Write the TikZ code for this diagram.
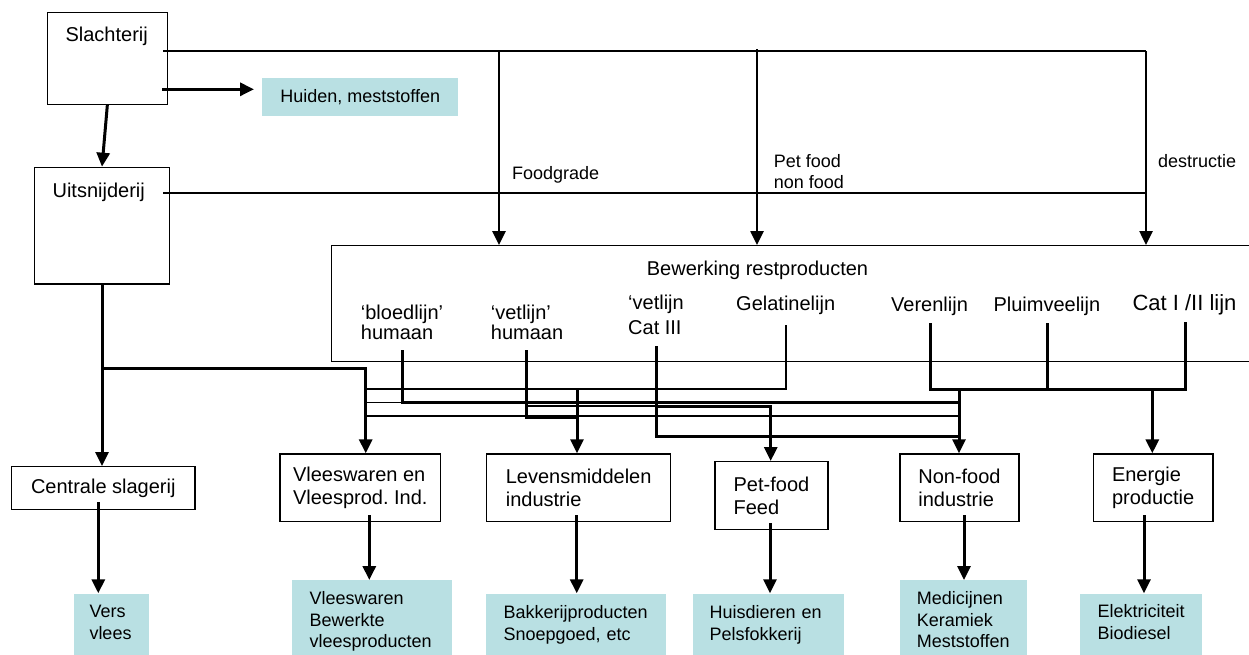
\documentclass[tikz,border=0pt]{standalone}
\usepackage{fontspec}
\setmainfont{Liberation Sans}
\usetikzlibrary{arrows.meta}
\definecolor{tealbox}{RGB}{185,224,227}
\newcommand{\mylines}[1]{\begin{tabular}[t]{@{}l@{}}#1\end{tabular}}
\newcommand{\padlines}[2]{\hspace*{#1}\mylines{#2}}
\frenchspacing
\begin{document}
\begin{tikzpicture}[x=1pt,y=-1pt,
  box/.style={draw, line width=1.3pt, inner sep=0pt, align=left, anchor=north west, font=\fontsize{20}{23.5}\selectfont},
  obox/.style={fill=tealbox, inner sep=0pt, align=left, anchor=north west, font=\fontsize{18}{21.5}\selectfont},
  lab/.style={inner sep=0pt, anchor=base west, font=\fontsize{20}{19}\selectfont},
  slab/.style={inner sep=0pt, anchor=base west, font=\fontsize{18}{20.7}\selectfont},
  lnthin/.style={line width=1.3pt},
  lnmed/.style={line width=2.2pt},
  lnbold/.style={line width=2.6pt},
  lnthick/.style={line width=3pt},
  arr/.style={-{Triangle[length=14pt,width=13pt]}}
]
\useasboundingbox (0,0) rectangle (1249,654);
\fill[white] (0,0) rectangle (1249,654);
\clip (0,0) rectangle (1249,654);

% ---------- boxes ----------
\node[box, minimum width=120pt, minimum height=91.7pt] (sl) at (46.7,12) {};
\node[lab, anchor=base] (slt) at (106.7,41.7) {Slachterij};
\node[box, minimum width=135.3pt, minimum height=116.6pt] (ui) at (33.7,166.7) {};
\node[lab, anchor=base] (uit) at (98.7,197.5) {Uitsnijderij};
\node[obox, minimum width=196pt, minimum height=38.4pt] (hu) at (262,77.3) {Huiden, meststoffen};

\node[box, minimum width=940pt, minimum height=115.5pt] (br) at (331,245) {};
\node[lab, anchor=base] (brt) at (757.5,275.5) {Bewerking restproducten};
\node[lab] (bl) at (360.7,319.3) {\mylines{‘bloedlijn’\\humaan}};
\node[lab] (vh) at (490.7,319.3) {\mylines{‘vetlijn’\\humaan}};
\node[lab, font=\fontsize{20}{24.7}\selectfont] (vc) at (628,309.3) {\mylines{‘vetlijn\\Cat III}};
\node[lab] (ge) at (736,310) {Gelatinelijn};
\node[lab] (ve) at (891,311) {Verenlijn};
\node[lab] (pl) at (993.3,311) {Pluimveelijn};
\node[lab, font=\fontsize{22}{24}\selectfont] (ca) at (1132.3,310) {Cat I /II lijn};

\node[slab] (fg) at (512,179) {Foodgrade};
\node[slab] (pt) at (773.6,167.7) {\mylines{Pet food\\non food}};
\node[slab] (de) at (1158,167.7) {destructie};

\node[box, minimum width=183.3pt, minimum height=43pt] (cs) at (11,466) {Centrale slagerij};
\node[box, minimum width=160.7pt, minimum height=67.4pt] (vw) at (279.3,453.3) {Vleeswaren en\\Vleesprod. Ind.};
\node[box, minimum width=184pt, minimum height=67.4pt] (lm) at (486,453.3) {Levensmiddelen\\industrie};
\node[box, minimum width=113pt, minimum height=68pt] (pf) at (714.3,461) {Pet-food\\Feed};
\node[box, minimum width=119pt, minimum height=67.4pt] (nf) at (899.3,453.3) {Non-food\\industrie};
\node[box, minimum width=119.6pt, minimum height=67.4pt] (ep) at (1092.7,453.3) {Energie\\productie};

\node[obox, text width=75.7pt, minimum height=61.4pt] (vv) at (73.3,593.3) {\padlines{16pt}{Vers\\vlees}};
\node[obox, text width=160pt, minimum height=83.4pt] (vwo) at (292,580) {\padlines{17.3pt}{Vleeswaren\\Bewerkte\\vleesproducten}};
\node[obox, text width=180pt, minimum height=63.4pt] (bk) at (486,593.3) {\padlines{17.3pt}{Bakkerijproducten\\Snoepgoed, etc}};
\node[obox, text width=151.7pt, minimum height=63.4pt] (hd) at (692.3,593.3) {\padlines{17pt}{Huisdieren en\\Pelsfokkerij}};
\node[obox, text width=127.4pt, minimum height=83.4pt] (mk) at (899.3,580) {\padlines{17.4pt}{Medicijnen\\Keramiek\\Meststoffen}};
\node[obox, text width=121.7pt, minimum height=61.4pt] (el) at (1080,593.3) {\padlines{17.3pt}{Elektriciteit\\Biodiesel}};

% ---------- coordinates ----------
\coordinate (ta) at (163,51);
\coordinate (tf) at (499,51);
\coordinate (tp) at (757,49);
\coordinate (td) at (1146,51);
\coordinate (ua) at (163,193);
\coordinate (uf) at (499,193);
\coordinate (ud) at (1146,193);
\coordinate (sh) at (162,89.3);
\coordinate (ub) at (101.35,368.3);
\coordinate (vb) at (365.7,368.3);
\coordinate (c1) at (98.3,502);
\coordinate (v1) at (369.3,515);
\coordinate (l1) at (576.7,515);
\coordinate (p1) at (770,523);
\coordinate (n1) at (964,515);
\coordinate (e1) at (1144,515);
\coordinate (g0) at (786,325);
\coordinate (g1) at (786,389);
\coordinate (g2) at (366,389);
\coordinate (lj) at (577,389);
\coordinate (b0) at (402.7,350);
\coordinate (b1) at (402.7,402.5);
\coordinate (b2) at (959,402.5);
\coordinate (b3) at (366,402.5);
\coordinate (h0) at (526.7,350);
\coordinate (h1) at (526.7,417);
\coordinate (h2) at (577,417);
\coordinate (m1) at (366,415.7);
\coordinate (m2) at (959,415.7);
\coordinate (q0) at (527,406);
\coordinate (q1) at (656.7,406);
\coordinate (q2) at (770.7,406);
\coordinate (k0) at (656.7,346);
\coordinate (k1) at (656.7,436.7);
\coordinate (k2) at (959,436.7);
\coordinate (r0) at (930,323.3);
\coordinate (r1) at (930,389);
\coordinate (r2) at (1185.7,389);
\coordinate (r3) at (1185.7,321.7);
\coordinate (w0) at (1047.7,323);
\coordinate (w1) at (1047.7,389);
\coordinate (nd) at (959,389);
\coordinate (ed) at (1152.3,389);

% ---------- top connectors ----------
\draw[lnthin] (ta) -- (td);
\draw[lnthin] (ua) -- (ud);
\draw[lnthin] (tf) -- (uf);
\draw[lnthin] (td) -- (ud);
\draw[lnbold, arr] (uf) -- (uf |- br.north);
\draw[lnbold, arr] (tp) -- (tp |- br.north);
\draw[lnbold, arr] (ud) -- (ud |- br.north);

\draw[lnthick, arr, shorten >=8pt] (sh) -- (hu.west |- sh);
\draw[lnthick, arr] (sl.south) -- (ui.north);
\draw[lnthick, arr] (ui.south) -- (ui.south |- cs.north);
\draw[lnthick, arr] (ub) -- (vb) -- (vb |- vw.north);

% ---------- tangle ----------
\draw[lnthin] (b3) -- (b1);
\draw[lnthin] (q0) -- (q1);
\draw[lnmed] (m1) -- (m2);
\draw[lnbold] (k0) -- (k1) -- (k2);
\draw[lnbold] (g0) -- (g1) -- (g2);
\draw[lnthick] (b0) -- (b1) -- (b2);
\draw[lnthick] (h0) -- (h1) -- (h2);
\draw[lnthick, arr] (q1) -- (q2) -- (q2 |- pf.north);
\draw[lnthick, arr] (lj) -- (lj |- lm.north);
\draw[lnthick] (r0) -- (r1) -- (r2) -- (r3);
\draw[lnthick] (w0) -- (w1);
\draw[lnthick, arr] (nd) -- (nd |- nf.north);
\draw[lnthick, arr] (ed) -- (ed |- ep.north);

% ---------- outputs ----------
\draw[lnthick, arr] (c1) -- (c1 |- vv.north);
\draw[lnthick, arr] (v1) -- (v1 |- vwo.north);
\draw[lnthick, arr] (l1) -- (l1 |- bk.north);
\draw[lnthick, arr] (p1) -- (p1 |- hd.north);
\draw[lnthick, arr] (n1) -- (n1 |- mk.north);
\draw[lnthick, arr] (e1) -- (e1 |- el.north);
\end{tikzpicture}
\end{document}
